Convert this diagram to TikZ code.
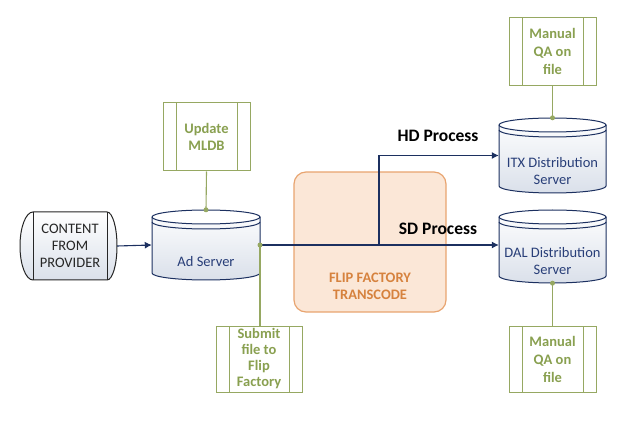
\documentclass[tikz,border=0pt]{standalone}
\usepackage{fontspec}
\setmainfont{Carlito}
\usetikzlibrary{arrows.meta}
\definecolor{grn}{RGB}{150,168,98}
\definecolor{grntxt}{RGB}{137,160,80}
\definecolor{navy}{RGB}{28,48,96}
\definecolor{navytxt}{RGB}{40,62,120}
\definecolor{orfill}{RGB}{251,231,215}
\definecolor{orline}{RGB}{232,164,112}
\definecolor{ortxt}{RGB}{214,130,62}
\definecolor{cylbot}{RGB}{218,224,234}
\tikzset{
  txt/.style={font=\fontsize{14.5}{17}\selectfont, align=center, inner sep=0pt},
  proc/.style={draw=grn, line width=1pt, fill=white, inner sep=0pt,
    path picture={
      \draw[grn, line width=1pt] ([xshift=13pt]path picture bounding box.north west) -- ([xshift=13pt]path picture bounding box.south west);
      \draw[grn, line width=1pt] ([xshift=-13pt]path picture bounding box.north east) -- ([xshift=-13pt]path picture bounding box.south east);
    }},
  proctext/.style={txt, text=grntxt, font=\fontsize{14.5}{17}\selectfont\bfseries},
  flow/.style={draw=navy, line width=1.1pt, -{Latex[length=7pt,width=7pt]}},
  plain/.style={draw=navy, line width=1.1pt},
  gline/.style={draw=grn, line width=1.1pt},
  gdot/.style={circle, fill=grn, inner sep=0pt, minimum size=5pt},
  cylline/.style={draw=navy, line width=1pt},
  cylfill/.style={top color=white, bottom color=cylbot},
  body/.style={inner sep=0pt, draw=none},
}
\newcommand\dbcyl[4]{% x1 x2 ytop-centre ybottom-centre
  \pgfmathsetmacro\cylrx{(#2-#1)/2}
  \pgfmathsetmacro\cylsec{#3+5}
  \path[cylfill] (#1,#3) -- (#1,#4) arc[start angle=180,end angle=360,x radius=\cylrx pt,y radius=7pt] -- (#2,#3) arc[start angle=0,end angle=180,x radius=\cylrx pt,y radius=7pt] -- cycle;
  \draw[cylline] (#1,#3) -- (#1,#4) arc[start angle=180,end angle=360,x radius=\cylrx pt,y radius=7pt] -- (#2,#3);
  \draw[cylline, fill=white] (#1,#3) arc[start angle=180,end angle=-180,x radius=\cylrx pt,y radius=7pt];
  \draw[cylline] (#1,\cylsec) arc[start angle=180,end angle=360,x radius=\cylrx pt,y radius=7pt];
}
\begin{document}
\begin{tikzpicture}[x=1pt,y=-1pt]
\useasboundingbox (0,0) rectangle (639,435);

% Flip factory box (behind)
\node[draw=orline, fill=orfill, line width=1.2pt, rounded corners=12pt, minimum width=152pt, minimum height=140pt, inner sep=0pt] (flip) at (370,242) {};
\node[txt, text=ortxt, font=\fontsize{14.5}{17}\selectfont\bfseries] (fliptxt) at (370,286) {FLIP FACTORY\\TRANSCODE};

% Content from provider (terminator)
\path[top color=white, bottom color=cylbot] (33,212) -- (107,212) arc[start angle=90,end angle=-90,x radius=10pt,y radius=34pt] -- (33,280) arc[start angle=270,end angle=90,x radius=13pt,y radius=34pt] -- cycle;
\draw[draw=black!85, line width=1pt] (33,212) -- (107,212) arc[start angle=90,end angle=-90,x radius=10pt,y radius=34pt] -- (33,280) arc[start angle=270,end angle=90,x radius=13pt,y radius=34pt] -- cycle;
\draw[draw=black!85, line width=1pt] (33,212) -- (33,280) (107,212) -- (107,280);
\node[body, minimum width=97pt, minimum height=68pt] (content) at (68.5,246) {};
\node[txt, text=black!85] (contenttxt) at (70,246) {CONTENT\\FROM\\PROVIDER};

% Cylinders
\dbcyl{152}{260}{217}{273}
\node[body, minimum width=108pt, minimum height=70pt] (ad) at (206,245) {};
\node[txt, text=navytxt] (adtxt) at (206,262) {Ad Server};

\dbcyl{499}{606}{125}{186}
\node[body, minimum width=107pt, minimum height=75pt] (itx) at (552.5,155.5) {};
\node[txt, text=navytxt] (itxtxt) at (552.5,171) {ITX Distribution\\Server};

\dbcyl{499}{606}{217}{276}
\node[body, minimum width=107pt, minimum height=73pt] (dal) at (552.5,246.5) {};
\node[txt, text=navytxt] (daltxt) at (552.5,261) {DAL Distribution\\Server};

% Process boxes
\node[proc, minimum width=87pt, minimum height=68pt] (mldb) at (206.5,137) {};
\node[proctext] (mldbtxt) at (206.5,136.5) {Update\\MLDB};

\node[proc, minimum width=86pt, minimum height=66pt] (submit) at (259,359) {};
\node[proctext, font=\fontsize{14.5}{16}\selectfont\bfseries] (submittxt) at (259,359) {Submit\\file to\\Flip\\Factory};

\node[proc, minimum width=87pt, minimum height=68pt] (qatop) at (552.5,52) {};
\node[proctext, font=\fontsize{14.5}{18}\selectfont\bfseries] (qatoptxt) at (552.5,51) {Manual\\QA on\\file};

\node[proc, minimum width=87pt, minimum height=66pt] (qabot) at (552.5,359) {};
\node[proctext, font=\fontsize{14.5}{18}\selectfont\bfseries] (qabottxt) at (552.5,359) {Manual\\QA on\\file};

% Connectors
\coordinate (adport) at (260,245);
\coordinate (split) at (379,245);
\draw[flow] (content.east) -- (ad.west);
\draw[plain] (adport) -- (split);
\draw[flow] (split) -- (dal.west |- split);
\draw[flow] (split) |- (itx.west);

\draw[gline] (mldb.south) -- (ad.north);
\draw[gline] (adport) -- (adport |- submit.north);
\draw[gline] (qatop.south) -- (itx.north);
\draw[gline] (dal.south) -- (qabot.north);
\node[gdot] (d1) at (ad.north) {};
\node[gdot] (d2) at (adport) {};
\node[gdot] (d3) at (itx.north) {};
\node[gdot] (d4) at (dal.south) {};

% Labels
\node[txt, font=\fontsize{17.5}{20}\selectfont\bfseries] (hd) at (438,136) {HD Process};
\node[txt, font=\fontsize{17.5}{20}\selectfont\bfseries] (sd) at (438,229) {SD Process};
\end{tikzpicture}
\end{document}
